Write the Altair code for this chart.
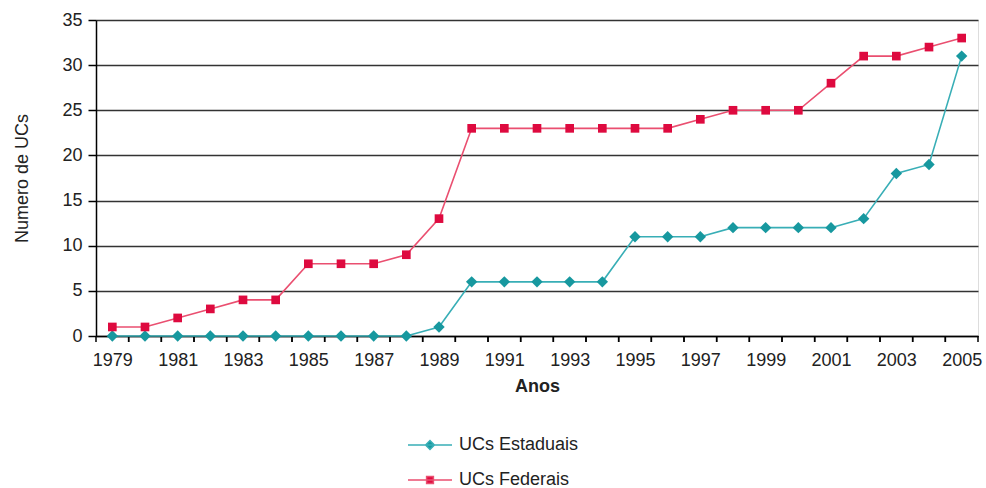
import altair as alt
import pandas as pd

# Unidades de conservação criadas por ano (acumulado)
anos = [1979, 1980, 1981, 1982, 1983, 1984, 1985, 1986, 1987, 1988,
        1989, 1990, 1991, 1992, 1993, 1994, 1995, 1996, 1997, 1998,
        1999, 2000, 2001, 2002, 2003, 2004, 2005]
ucs_estaduais = [0, 0, 0, 0, 0, 0, 0, 0, 0, 0,
                 1, 6, 6, 6, 6, 6, 11, 11, 11, 12,
                 12, 12, 12, 13, 18, 19, 31]
ucs_federais = [1, 1, 2, 3, 4, 4, 8, 8, 8, 9,
                13, 23, 23, 23, 23, 23, 23, 23, 24, 25,
                25, 25, 28, 31, 31, 32, 33]
anos_rotulados = [1979, 1981, 1983, 1985, 1987, 1989, 1991, 1993,
                  1995, 1997, 1999, 2001, 2003, 2005]
valores_y = [0, 5, 10, 15, 20, 25, 30, 35]
series = ["UCs Estaduais", "UCs Federais"]

cor_linha = ["#38AEB6", "#EA4F70"]
cor_marcador = ["#17989F", "#DE0A3F"]

df = pd.DataFrame({
    "Ano": anos * 2,
    "Serie": [series[0]] * len(anos) + [series[1]] * len(anos),
    "Valor": ucs_estaduais + ucs_federais,
})
df_anos = pd.DataFrame({"Ano": anos})

W, H = 882, 316
FONTE = "Liberation Sans"

x_scale = alt.Scale(domain=[1978.5, 2005.5], nice=False, zero=False)
y_scale = alt.Scale(domain=[0, 35], nice=False, zero=True)

x_axis = alt.Axis(values=anos_rotulados, format="d", title="Anos", ticks=False,
                  tickSize=0, labelPadding=15, grid=False, domainColor="#000",
                  domainWidth=1.5, labelFontSize=18, labelColor="#222",
                  labelFlush=False, labelOverlap=False, labelBound=False,
                  titleFontSize=18, titleFontWeight="bold", titleColor="#222",
                  titlePadding=8)
y_axis = alt.Axis(values=valores_y, title="Numero de UCs", tickSize=8,
                  tickColor="#000", tickWidth=1.5, domainColor="#000",
                  domainWidth=1.5, grid=True, gridColor="#333", gridWidth=1.5,
                  labelPadding=6, labelFontSize=18, labelColor="#222",
                  titleFontSize=18, titleFontWeight="normal", titleColor="#222",
                  titlePadding=30)

stroke_scale = alt.Scale(domain=series, range=cor_linha)
fill_scale = alt.Scale(domain=series, range=cor_marcador)
# legend symbols: a short line with the series marker in the middle
shape_scale = alt.Scale(domain=series, range=[
    "M-5.5,0H5.5M-1.1,0L0,-1.1L1.1,0L0,1.1Z",
    "M-5.5,0H5.5M-0.85,-0.85H0.85V0.85H-0.85Z",
])

base = alt.Chart(df)
x_enc = alt.X("Ano:Q", scale=x_scale, axis=x_axis)
y_enc = alt.Y("Valor:Q", scale=y_scale, axis=y_axis)

legenda = alt.Legend(title=None, orient="none", legendX=325, legendY=416,
                     direction="vertical", symbolSize=64, symbolStrokeWidth=1.5,
                     symbolOpacity=1, labelFontSize=18, labelColor="#222",
                     labelOffset=20, rowPadding=17, padding=0)

# invisible layer that only carries the legend (listed first so its
# legend settings take precedence over the layers that hide theirs)
chave = base.mark_point(filled=True, opacity=0).encode(
    x=x_enc, y=y_enc,
    fill=alt.Fill("Serie:N", scale=fill_scale, legend=legenda),
    stroke=alt.Stroke("Serie:N", scale=stroke_scale, legend=legenda),
    shape=alt.Shape("Serie:N", scale=shape_scale, legend=legenda),
)

linhas = base.mark_line(strokeWidth=1.6).encode(
    x=x_enc, y=y_enc,
    stroke=alt.Stroke("Serie:N", scale=stroke_scale, legend=None),
)

losangos = base.transform_filter(alt.datum.Serie == series[0]).mark_point(
    shape="diamond", filled=True, size=130, strokeWidth=0, opacity=1
).encode(x=x_enc, y=y_enc,
         fill=alt.Fill("Serie:N", scale=fill_scale, legend=None))

quadrados = base.transform_filter(alt.datum.Serie == series[1]).mark_point(
    shape="square", filled=True, size=75, strokeWidth=0, opacity=1
).encode(x=x_enc, y=y_enc,
         fill=alt.Fill("Serie:N", scale=fill_scale, legend=None))

# tick marks between the year categories
marcas_x = alt.Chart(df_anos).transform_calculate(
    ini="datum.Ano - 0.5", fim="datum.Ano + 0.5"
).transform_fold(["ini", "fim"], as_=["lado", "pos"]).mark_rule(
    color="#000", strokeWidth=1.5
).encode(
    x=alt.X("pos:Q", scale=x_scale, axis=x_axis),
    y=alt.value(H), y2=alt.value(H + 6),
)

chart = alt.layer(chave, marcas_x, linhas, losangos, quadrados).properties(
    width=W, height=H,
    padding={"left": 96, "top": 20, "right": 8, "bottom": 152},
    autosize=alt.AutoSizeParams(type="none"),
    background="white",
).configure_view(stroke=None).configure(font=FONTE)

chart.save("out.html", embed_options={"renderer": "svg", "actions": False})
